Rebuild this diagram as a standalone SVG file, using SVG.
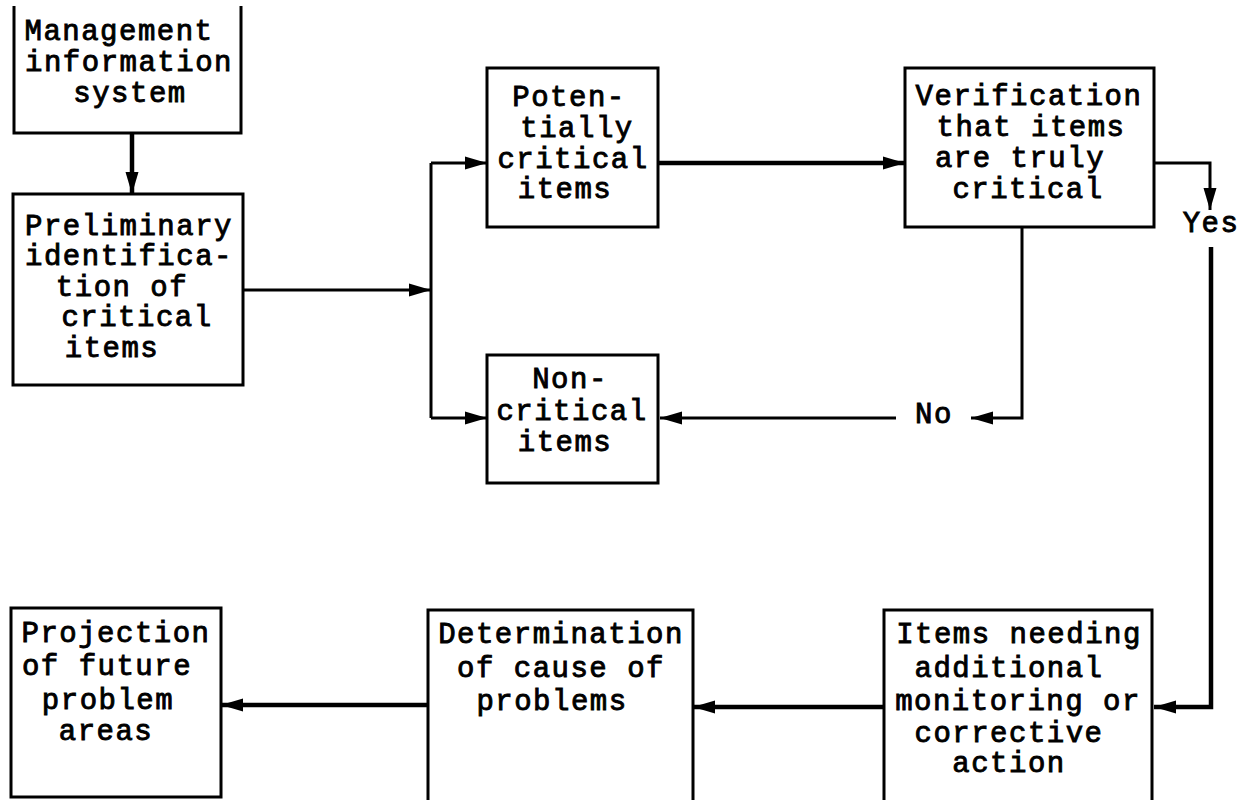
<svg xmlns="http://www.w3.org/2000/svg" width="1251" height="800" viewBox="0 0 1251 800">
<style>
.box{fill:#fff;stroke:#000;stroke-width:3}
.t{font-family:"Liberation Mono","Courier New",monospace;font-size:29px;letter-spacing:1.5px;font-weight:normal;fill:#000;stroke:#000;stroke-width:0.9px;text-anchor:middle}
.c{fill:none;stroke:#000;stroke-linejoin:miter}
.w3{stroke-width:3}
.w4{stroke-width:4.5}
</style>
<defs>
<marker id="ah" markerWidth="24" markerHeight="16" refX="22" refY="8" orient="auto" markerUnits="userSpaceOnUse">
<path d="M0,1.5 L22,8 L0,14.5 z" fill="#000"/>
</marker>
</defs>
<rect width="1251" height="800" fill="#fff"/>

<g id="connectors">
<path class="c w4" d="M132,133 V194" marker-end="url(#ah)"/>
<path class="c w3" d="M243,290 H431" marker-end="url(#ah)"/>
<path class="c w3" d="M431,163 V418"/>
<path class="c w3" d="M431,163 H487" marker-end="url(#ah)"/>
<path class="c w3" d="M431,418 H487" marker-end="url(#ah)"/>
<path class="c w4" d="M658,163 H905" marker-end="url(#ah)"/>
<path class="c w3" d="M1154,163 H1210 V210" marker-end="url(#ah)"/>
<path class="c w4" d="M1211,247 V707 H1154" marker-end="url(#ah)"/>
<path class="c w3" d="M1022,227 V418 H971" marker-end="url(#ah)"/>
<path class="c w3" d="M896,418 H660" marker-end="url(#ah)"/>
<path class="c w4" d="M884,707 H693" marker-end="url(#ah)"/>
<path class="c w4" d="M428,705 H221" marker-end="url(#ah)"/>
<text class="t" x="1211" y="232">Yes</text>
<text class="t" x="934" y="423">No</text>
</g>

<g id="mis">
<path class="box" d="M14,6 V133 H241 V6"/>
<text class="t" x="119" y="40">Management</text>
<text class="t" x="129" y="71">information</text>
<text class="t" x="130" y="102">system</text>
</g>

<g id="preliminary">
<rect class="box" x="13" y="194" width="230" height="191"/>
<text class="t" x="129" y="235">Preliminary</text>
<text class="t" x="129" y="265">identifica-</text>
<text class="t" x="122" y="296">tion of</text>
<text class="t" x="137" y="326">critical</text>
<text class="t" x="112" y="357">items</text>
</g>

<g id="potentially">
<rect class="box" x="487" y="68" width="171" height="159"/>
<text class="t" x="569" y="106">Poten-</text>
<text class="t" x="577" y="137">tially</text>
<text class="t" x="573" y="168">critical</text>
<text class="t" x="565" y="198">items</text>
</g>

<g id="noncritical">
<rect class="box" x="487" y="355" width="171" height="128"/>
<text class="t" x="570" y="388">Non-</text>
<text class="t" x="572" y="420">critical</text>
<text class="t" x="565" y="451">items</text>
</g>

<g id="verification">
<rect class="box" x="905" y="68" width="249" height="159"/>
<text class="t" x="1029" y="105">Verification</text>
<text class="t" x="1031" y="136">that items</text>
<text class="t" x="1020" y="167">are truly</text>
<text class="t" x="1028" y="198">critical</text>
</g>

<g id="items-needing">
<path class="box" d="M884,805 V610 H1152 V805"/>
<text class="t" x="1019" y="643">Items needing</text>
<text class="t" x="1009" y="677">additional</text>
<text class="t" x="1018" y="710">monitoring or</text>
<text class="t" x="1009" y="742">corrective</text>
<text class="t" x="1009" y="772">action</text>
</g>

<g id="determination">
<path class="box" d="M428,805 V610 H693 V805"/>
<text class="t" x="561" y="643">Determination</text>
<text class="t" x="561" y="677">of cause of</text>
<text class="t" x="552" y="710">problems</text>
</g>

<g id="projection">
<rect class="box" x="11" y="608" width="210" height="189"/>
<text class="t" x="116" y="642">Projection</text>
<text class="t" x="107" y="675">of future</text>
<text class="t" x="108" y="709">problem</text>
<text class="t" x="106" y="740">areas</text>
</g>
</svg>
